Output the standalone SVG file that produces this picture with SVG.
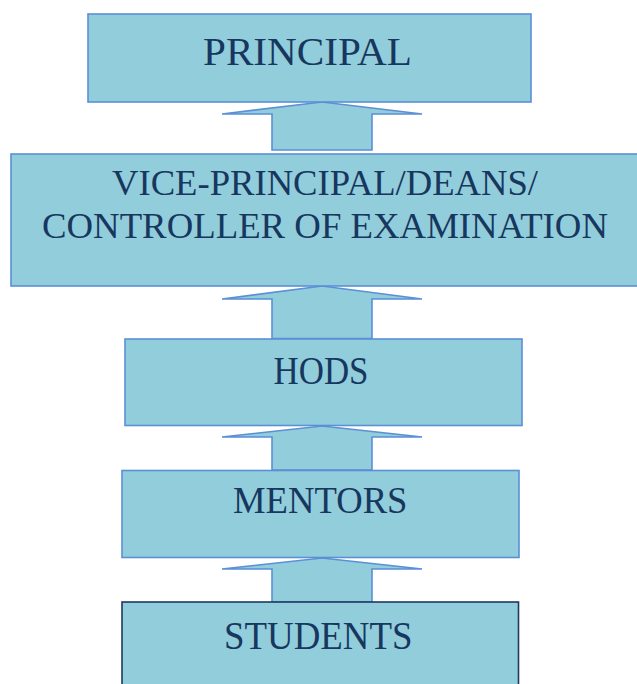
<svg xmlns="http://www.w3.org/2000/svg" width="637" height="684" viewBox="0 0 637 684">
  <style>
    .box { fill: #92CDDC; stroke: #5B8FD6; stroke-width: 1.6; }
    .dark { stroke: #1F3864; }
    .arrow { fill: #92CDDC; stroke: #5B8FD6; stroke-width: 1.6; stroke-linejoin: miter; }
    .lbl { fill: #17375E; }
  </style>
  <rect width="637" height="684" fill="#FFFFFF"/>
  <g id="connectors">
    <polygon class="arrow" points="322,102 422,114 372,114 372,150 272,150 272,114 222,114"/>
    <polygon class="arrow" points="322,286 422,299 372,299 372,338.5 272,338.5 272,299 222,299"/>
    <polygon class="arrow" points="322,426 422,437 372,437 372,470 272,470 272,437 222,437"/>
    <polygon class="arrow" points="322,558 422,569 372,569 372,602 272,602 272,569 222,569"/>
  </g>
  <g font-family="'Liberation Serif', serif">
    <g id="principal">
      <rect class="box" x="88" y="14" width="443" height="88"/>
      <text class="lbl" x="203" y="64.5" font-size="41" textLength="209" lengthAdjust="spacingAndGlyphs">PRINCIPAL</text>
    </g>
    <g id="vice-principal">
      <rect class="box" x="11" y="154" width="640" height="132"/>
      <text class="lbl" x="112" y="195" font-size="36" textLength="426" lengthAdjust="spacingAndGlyphs">VICE-PRINCIPAL/DEANS/</text>
      <text class="lbl" x="42" y="237.5" font-size="36" textLength="566" lengthAdjust="spacingAndGlyphs">CONTROLLER OF EXAMINATION</text>
    </g>
    <g id="hods">
      <rect class="box" x="125" y="339" width="397" height="86.5"/>
      <text class="lbl" x="273.5" y="383.5" font-size="40" textLength="95" lengthAdjust="spacingAndGlyphs">HODS</text>
    </g>
    <g id="mentors">
      <rect class="box" x="122" y="470.5" width="397" height="87"/>
      <text class="lbl" x="233" y="512.5" font-size="37" textLength="174.5" lengthAdjust="spacingAndGlyphs">MENTORS</text>
    </g>
    <g id="students">
      <rect class="box dark" x="122" y="602" width="396.5" height="100"/>
      <text class="lbl" x="224" y="648.5" font-size="39" textLength="188.5" lengthAdjust="spacingAndGlyphs">STUDENTS</text>
    </g>
  </g>
</svg>
